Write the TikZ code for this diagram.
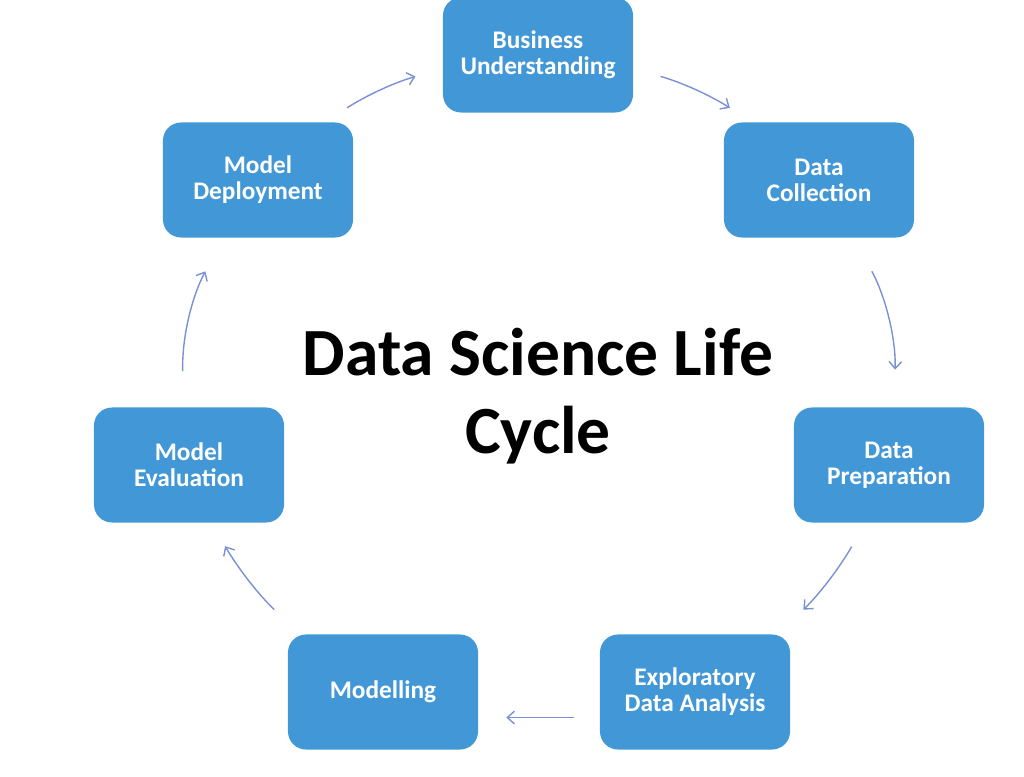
\documentclass[tikz,border=0pt]{standalone}
\usepackage{fontspec}
\setmainfont{Carlito}
\usetikzlibrary{arrows.meta}
\definecolor{boxblue}{RGB}{66,152,214}
\definecolor{arrowblue}{RGB}{122,146,212}
\begin{document}
\begin{tikzpicture}[x=0.025cm, y=-0.025cm,
	phase/.style = {rectangle, rounded corners=0.45cm, fill=boxblue, text=white, minimum width=4.75cm, minimum height=2.875cm, align=center, font=\bfseries\fontsize{18}{18.5}\selectfont},
	link/.style = {draw=arrowblue, line width=1pt, -{Straight Barb[length=5pt,width=9pt]}}]
	\useasboundingbox (0,0) rectangle (1024,776);
	\node (BU) at (538,  55)	[phase]	{Business\\Understanding};
	\node (DC) at (819, 180)	[phase]	{Data\\Collection};
	\node (DP) at (889, 465)	[phase]	{Data\\Preparation};
	\node (EDA) at (695, 692)	[phase]	{Exploratory\\Data Analysis};
	\node (MO) at (383, 692)	[phase]	{Modelling};
	\node (ME) at (189, 465)	[phase]	{Model\\Evaluation};
	\node (MD) at (258, 180)	[phase]	{Model\\Deployment};
	\node (T) at (538, 396)	[align=center, font=\bfseries\fontsize{48}{55}\selectfont]	{Data Science Life\\Cycle};
	\draw[link, shorten <=0.67cm, shorten >=0.71cm] (MD.41) to[bend left=8] (BU.188);
	\draw[link, shorten <=0.71cm, shorten >=0.67cm] (BU.352) to[bend left=8] (DC.139);
	\draw[link, shorten <=0.95cm, shorten >=0.94cm] (DC.301) to[bend left=15] (DP.85);
	\draw[link, shorten <=0.69cm, shorten >=0.89cm] (DP.248) to[bend left=8] (EDA.35);
	\draw[link, shorten <=0.65cm, shorten >=0.70cm] (EDA.195) -- (MO.345);
	\draw[link, shorten <=0.90cm, shorten >=0.68cm] (MO.145) to[bend left=8] (ME.291);
	\draw[link, shorten <=0.90cm, shorten >=0.95cm] (ME.95) to[bend left=15] (MD.239);
\end{tikzpicture}
\end{document}
